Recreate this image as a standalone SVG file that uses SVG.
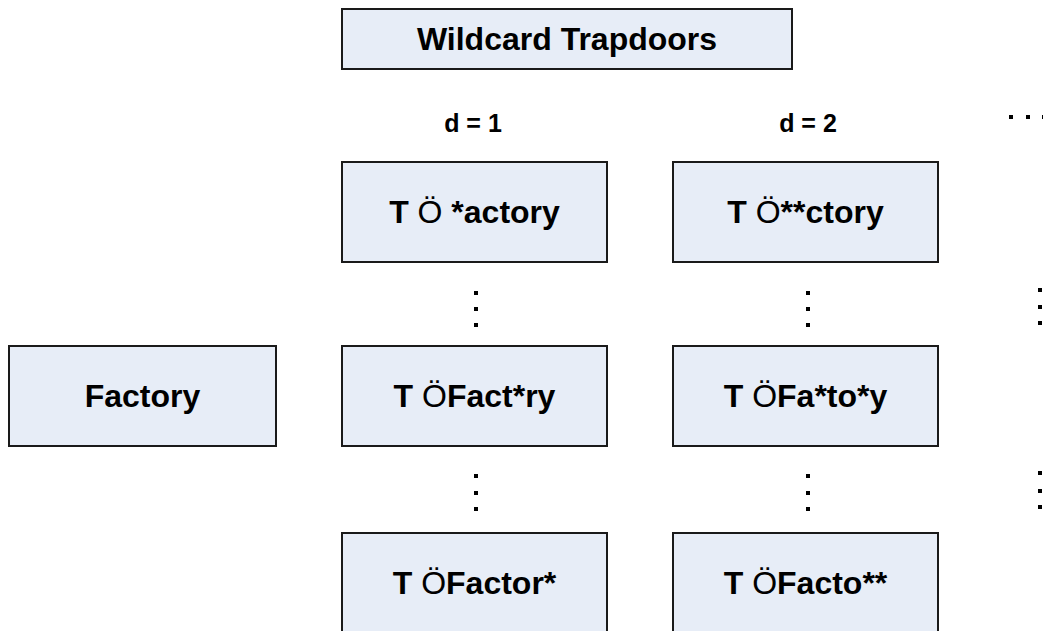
<svg xmlns="http://www.w3.org/2000/svg" width="1043" height="631" viewBox="0 0 1043 631">
<style>
.box{fill:#E7EDF7;stroke:#1a1a1a;stroke-width:2}
.t{font-family:"Liberation Sans",Arial,sans-serif;font-weight:bold;font-size:32px;fill:#000;text-anchor:middle}
.s{font-weight:normal}
.d{font-family:"Liberation Sans",Arial,sans-serif;font-weight:bold;font-size:25px;fill:#000;text-anchor:middle}
.dot{fill:#000}
</style>
<rect width="1043" height="631" fill="#fff"/>
<g id="title"><rect class="box" x="342" y="9" width="450" height="60"/><text class="t" x="567" y="50">Wildcard Trapdoors</text></g>
<g id="label-d1"><text class="d" x="473" y="132">d = 1</text></g>
<g id="label-d2"><text class="d" x="808" y="132">d = 2</text></g>
<g id="factory"><rect class="box" x="9" y="346" width="267" height="100"/><text class="t" x="142.5" y="407">Factory</text></g>
<g id="n11"><rect class="box" x="342" y="162" width="265" height="100"/><text class="t" x="474.5" y="223">T <tspan class="s">Ö</tspan> *actory</text></g>
<g id="n12"><rect class="box" x="342" y="346" width="265" height="100"/><text class="t" x="474.5" y="407">T <tspan class="s">Ö</tspan>Fact*ry</text></g>
<g id="n13"><rect class="box" x="342" y="533" width="265" height="100"/><text class="t" x="474.5" y="594">T <tspan class="s">Ö</tspan>Factor*</text></g>
<g id="n21"><rect class="box" x="673" y="162" width="265" height="100"/><text class="t" x="805.5" y="223">T <tspan class="s">Ö</tspan>**ctory</text></g>
<g id="n22"><rect class="box" x="673" y="346" width="265" height="100"/><text class="t" x="805.5" y="407">T <tspan class="s">Ö</tspan>Fa*to*y</text></g>
<g id="n23"><rect class="box" x="673" y="533" width="265" height="100"/><text class="t" x="805.5" y="594">T <tspan class="s">Ö</tspan>Facto**</text></g>
<g id="ellipses" class="dot">
<rect x="474" y="291" width="4" height="4"/><rect x="474" y="307" width="4" height="4"/><rect x="474" y="323" width="4" height="4"/>
<rect x="806" y="291" width="4" height="4"/><rect x="806" y="307" width="4" height="4"/><rect x="806" y="323" width="4" height="4"/>
<rect x="474" y="474" width="4" height="4"/><rect x="474" y="491" width="4" height="4"/><rect x="474" y="507" width="4" height="4"/>
<rect x="806" y="474" width="4" height="4"/><rect x="806" y="491" width="4" height="4"/><rect x="806" y="507" width="4" height="4"/>
<rect x="1038" y="288" width="4" height="4"/><rect x="1038" y="305" width="4" height="4"/><rect x="1038" y="321" width="4" height="4"/>
<rect x="1038" y="471" width="4" height="4"/><rect x="1038" y="489" width="4" height="4"/><rect x="1038" y="505" width="4" height="4"/>
<rect x="1009" y="115" width="4" height="4"/><rect x="1026" y="115" width="4" height="4"/><rect x="1042" y="115" width="4" height="4"/>
</g>
</svg>
